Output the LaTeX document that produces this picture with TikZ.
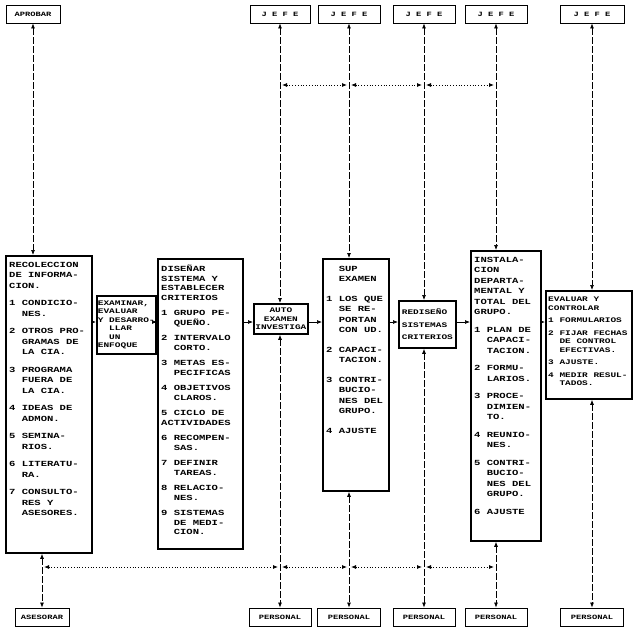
\documentclass[tikz,border=0pt]{standalone}
\usepackage{fontspec}
\newfontfamily\dotfont[FakeStretch=1.35]{Liberation Mono}
\usetikzlibrary{arrows.meta}
\newcommand\ind{\phantom{1 }}
\begin{document}
\begin{tikzpicture}[x=1pt,y=-1pt,
  txt/.style={font=\dotfont\bfseries\fontsize{7.8}{10.5}\selectfont, align=left, inner sep=0pt},
  ctxt/.style={font=\dotfont\bfseries\fontsize{7.8}{9.5}\selectfont, align=left, inner sep=0pt},
  stxt/.style={font=\dotfont\bfseries\fontsize{7}{8.5}\selectfont, align=left, inner sep=1pt},
  mbox/.style={draw, line width=1.8pt, inner sep=0pt, anchor=north west},
  lbl/.style={draw, line width=0.9pt, minimum height=18pt, inner sep=0pt, font=\dotfont\bfseries\fontsize{6.5}{8}\selectfont},
  tipa/.style={-{Latex[length=5pt,width=4pt]}, line width=0.7pt},
  dbl/.style={{Latex[length=5pt,width=4pt]}-{Latex[length=5pt,width=4pt]}, line width=0.7pt, dash pattern=on 7pt off 2pt},
  dotlink/.style={{Latex[length=5pt,width=4pt]}-{Latex[length=5pt,width=4pt]}, line width=0.8pt, dotted, shorten <=2pt, shorten >=2pt}
]
\useasboundingbox (0,0) rectangle (635,629);

% top labels
\node[lbl, minimum width=54pt] (aprobar) at (33,14) {APROBAR};
\node[lbl, minimum width=60pt] (jefe1) at (280,14) {J E F E};
\node[lbl, minimum width=62pt] (jefe2) at (349,14) {J E F E};
\node[lbl, minimum width=62pt] (jefe3) at (424,14) {J E F E};
\node[lbl, minimum width=62pt] (jefe4) at (496,14) {J E F E};
\node[lbl, minimum width=64pt] (jefe5) at (592,14) {J E F E};

% bottom labels
\node[lbl, minimum width=54pt] (asesorar) at (42,617) {ASESORAR};
\node[lbl, minimum width=62pt] (personal1) at (280,617) {PERSONAL};
\node[lbl, minimum width=63pt] (personal2) at (349,617) {PERSONAL};
\node[lbl, minimum width=62pt] (personal3) at (424,617) {PERSONAL};
\node[lbl, minimum width=62pt] (personal4) at (496,617) {PERSONAL};
\node[lbl, minimum width=63pt] (personal5) at (592,617) {PERSONAL};

% main boxes
\node[mbox, minimum width=86pt, minimum height=297pt] (b1) at (5,255) {};
\node[txt, anchor=north west] (b1t) at ([shift={(4,7)}]b1.north west) {RECOLECCION\\DE INFORMA-\\CION.\\[7pt]
1 CONDICIO-\\\ind NES.\\[7pt]
2 OTROS PRO-\\\ind GRAMAS DE\\\ind LA CIA.\\[7pt]
3 PROGRAMA\\\ind FUERA DE\\\ind LA CIA.\\[7pt]
4 IDEAS DE\\\ind ADMON.\\[7pt]
5 SEMINA-\\\ind RIOS.\\[7pt]
6 LITERATU-\\\ind RA.\\[7pt]
7 CONSULTO-\\\ind RES Y\\\ind ASESORES.};

\node[mbox, minimum width=56pt, minimum height=58pt, stxt] (b2) at (96,295) {EXAMINAR,\\EVALUAR\\Y DESARRO-\\\ind LLAR\\\ind UN\\ENFOQUE};

\node[mbox, minimum width=85pt, minimum height=290pt] (b3) at (157,258) {};
\node[ctxt, anchor=north west] (b3t) at ([shift={(4,7)}]b3.north west) {DISEÑAR\\SISTEMA Y\\ESTABLECER\\CRITERIOS\\[6pt]
1 GRUPO PE-\\\ind QUEÑO.\\[6pt]
2 INTERVALO\\\ind CORTO.\\[6pt]
3 METAS ES-\\\ind PECIFICAS\\[6pt]
4 OBJETIVOS\\\ind CLAROS.\\[6pt]
5 CICLO DE\\ACTIVIDADES\\[6pt]
6 RECOMPEN-\\\ind SAS.\\[6pt]
7 DEFINIR\\\ind TAREAS.\\[6pt]
8 RELACIO-\\\ind NES.\\[6pt]
9 SISTEMAS\\\ind DE MEDI-\\\ind CION.};

\node[mbox, minimum width=54pt, minimum height=30pt, stxt, align=center] (b4) at (253,303) {AUTO\\EXAMEN\\INVESTIGA};

\node[mbox, minimum width=66pt, minimum height=232pt] (b5) at (322,258) {};
\node[txt, anchor=north west] (b5t) at ([shift={(4,8)}]b5.north west) {\ind SUP\\\ind EXAMEN\\[9pt]
1 LOS QUE\\\ind SE RE-\\\ind PORTAN\\\ind CON UD.\\[9pt]
2 CAPACI-\\\ind TACION.\\[9pt]
3 CONTRI-\\\ind BUCIO-\\\ind NES DEL\\\ind GRUPO.\\[9pt]
4 AJUSTE};

\node[mbox, minimum width=57pt, minimum height=47pt, stxt] (b6) at (398,300) {REDISEÑO\\[4pt]SISTEMAS\\[4pt]CRITERIOS};

\node[mbox, minimum width=70pt, minimum height=290pt] (b7) at (470,250) {};
\node[txt, anchor=north west] (b7t) at ([shift={(4,7)}]b7.north west) {INSTALA-\\CION\\DEPARTA-\\MENTAL Y\\TOTAL DEL\\GRUPO.\\[7pt]
1 PLAN DE\\\ind CAPACI-\\\ind TACION.\\[7pt]
2 FORMU-\\\ind LARIOS.\\[7pt]
3 PROCE-\\\ind DIMIEN-\\\ind TO.\\[7pt]
4 REUNIO-\\\ind NES.\\[7pt]
5 CONTRI-\\\ind BUCIO-\\\ind NES DEL\\\ind GRUPO.\\[7pt]
6 AJUSTE};

\node[mbox, minimum width=86pt, minimum height=108pt] (b8) at (545,290) {};
\node[stxt, anchor=north west, inner sep=0pt] (b8t) at ([shift={(3,7)}]b8.north west) {EVALUAR Y\\CONTROLAR\\[4pt]
1 FORMULARIOS\\[4pt]
2 FIJAR FECHAS\\\ind DE CONTROL\\\ind EFECTIVAS.\\[4pt]
3 AJUSTE.\\[4pt]
4 MEDIR RESUL-\\\ind TADOS.};

% main flow
\coordinate (row) at (0,322);
\draw[tipa] (b1.east |- row) -- (b2.west |- row);
\draw[tipa] (b2.east |- row) -- (b3.west |- row);
\draw[tipa] (b3.east |- row) -- (b4.west |- row);
\draw[tipa] (b4.east |- row) -- (b5.west |- row);
\draw[tipa] (b5.east |- row) -- (b6.west |- row);
\draw[tipa] (b6.east |- row) -- (b7.west |- row);
\draw[tipa] (b7.east |- row) -- (b8.west |- row);

% vertical links
\draw[dbl] (aprobar.south) -- (aprobar.south |- b1.north);
\draw[dbl] (jefe1.south) -- (jefe1.south |- b4.north);
\draw[dbl] (jefe2.south) -- (jefe2.south |- b5.north);
\draw[dbl] (jefe3.south) -- (jefe3.south |- b6.north);
\draw[dbl] (jefe4.south) -- (jefe4.south |- b7.north);
\draw[dbl] (jefe5.south) -- (jefe5.south |- b8.north);
\draw[dbl] (asesorar.north |- b1.south) -- (asesorar.north);
\draw[dbl] (personal1.north |- b4.south) -- (personal1.north);
\draw[dbl] (personal2.north |- b5.south) -- (personal2.north);
\draw[dbl] (personal3.north |- b6.south) -- (personal3.north);
\draw[dbl] (personal4.north |- b7.south) -- (personal4.north);
\draw[dbl] (personal5.north |- b8.south) -- (personal5.north);

% dotted cross links
\coordinate (toprow) at (0,85);
\coordinate (botrow) at (0,567);
\draw[dotlink] (jefe1.south |- toprow) -- (jefe2.south |- toprow);
\draw[dotlink] (jefe2.south |- toprow) -- (jefe3.south |- toprow);
\draw[dotlink] (jefe3.south |- toprow) -- (jefe4.south |- toprow);
\draw[dotlink] (asesorar.north |- botrow) -- (personal1.north |- botrow);
\draw[dotlink] (personal1.north |- botrow) -- (personal2.north |- botrow);
\draw[dotlink] (personal2.north |- botrow) -- (personal3.north |- botrow);
\draw[dotlink] (personal3.north |- botrow) -- (personal4.north |- botrow);
\end{tikzpicture}
\end{document}
